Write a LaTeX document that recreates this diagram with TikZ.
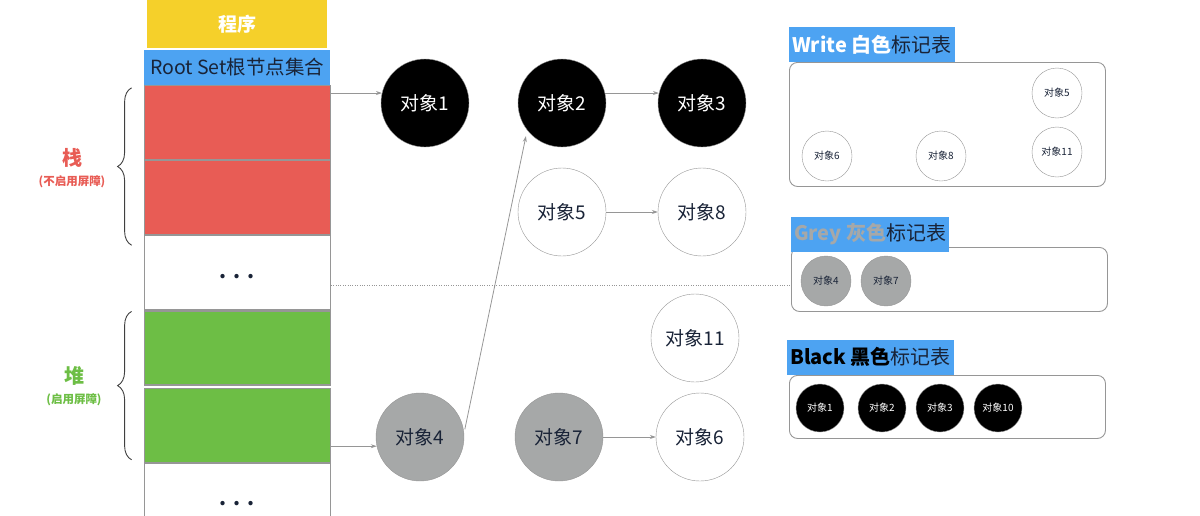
\documentclass[tikz,border=0pt]{standalone}
\usepackage{fontspec}
\setmainfont{Noto Sans CJK SC}
\usetikzlibrary{arrows.meta,positioning,decorations.pathreplacing}
\definecolor{progyellow}{RGB}{245,208,42}
\definecolor{rootblue}{RGB}{77,163,242}
\definecolor{stackred}{RGB}{232,92,85}
\definecolor{heapgreen}{RGB}{109,190,69}
\definecolor{objgrey}{RGB}{166,168,168}
\definecolor{edgegrey}{RGB}{150,150,150}
\definecolor{labeldark}{RGB}{25,35,55}

\newcommand{\celldots}{\textbf{.\hspace{7pt}.\hspace{7pt}.}}

\tikzset{
  cell/.style={draw=edgegrey, line width=1.2pt, minimum width=186pt, minimum height=74pt, inner sep=0pt},
  gapcell/.style={cell, fill=white, text=labeldark, font=\fontsize{20}{22}\selectfont},
  obj/.style={circle, draw=edgegrey, minimum size=88pt, inner sep=0pt, font=\fontsize{19}{21}\selectfont},
  mini/.style={circle, draw=edgegrey, minimum size=50pt, inner sep=0pt, font=\fontsize{10}{12}\selectfont},
  blackobj/.style={fill=black, text=white},
  greyobj/.style={fill=objgrey, text=labeldark},
  whiteobj/.style={fill=white, text=labeldark},
  table/.style={draw=edgegrey, rounded corners=8pt, line width=0.9pt, minimum width=316pt, anchor=north west},
  tabtitle/.style={fill=rootblue, text=labeldark, inner sep=3pt, minimum height=35pt, anchor=south west, font=\fontsize{20}{22}\selectfont},
  link/.style={->, draw=edgegrey, line width=0.8pt},
  brace/.style={decorate, decoration={brace, amplitude=14pt}, line width=0.9pt, draw=black!75},
}

\begin{document}
\begin{tikzpicture}[x=1pt, y=-1pt, >={Stealth[length=6pt, width=4pt]}]
    \useasboundingbox (0,0) rectangle (1200,515);

    % stack of the program
    \node[fill=progyellow, minimum width=180pt, minimum height=48pt, anchor=north west, text=white,
          font=\fontsize{19}{22}\selectfont\bfseries] (prog) at (147,0) {程序};
    \node[fill=rootblue, minimum width=186pt, minimum height=35pt, text=labeldark, inner sep=0pt,
          font=\fontsize{19.5}{21}\selectfont, below=1pt of prog] (rootset) {Root Set根节点集合};
    \node[cell, fill=stackred, below=0pt of rootset] (stackA) {};
    \node[cell, fill=stackred, below=0pt of stackA] (stackB) {};
    \node[gapcell, below=0pt of stackB] (gapA) {\raisebox{-11pt}{\celldots}};
    \node[cell, fill=heapgreen, below=0pt of gapA] (heapA) {};
    \node[cell, fill=heapgreen, below=2pt of heapA] (heapB) {};
    \node[gapcell, below=0pt of heapB] (gapB) {\raisebox{-11pt}{\celldots}};

    % braces
    \draw[brace] ([xshift=-12pt, yshift=-10pt]stackB.south west) -- ([xshift=-12pt, yshift=-3pt]stackA.north west);
    \draw[brace] ([xshift=-12pt, yshift=3pt]heapB.south west) -- ([xshift=-12pt, yshift=-1pt]heapA.north west);
    \node[text=stackred, font=\fontsize{20}{22}\selectfont\bfseries] (stacklbl) at (72,158) {栈};
    \node[text=stackred, font=\fontsize{11.5}{13}\selectfont\bfseries, below=1pt of stacklbl] (stacknote) {(不启用屏障)};
    \node[text=heapgreen, font=\fontsize{20}{22}\selectfont\bfseries] (heaplbl) at (74,376) {堆};
    \node[text=heapgreen, font=\fontsize{11.5}{13}\selectfont\bfseries, below=1pt of heaplbl] (heapnote) {(启用屏障)};

    % objects
    \node[obj, blackobj] (obj1) at (425,103) {对象1};
    \node[obj, blackobj] (obj2) at (562,103) {对象2};
    \node[obj, blackobj] (obj3) at (702,103) {对象3};
    \node[obj, whiteobj] (obj5) at (562,212) {对象5};
    \node[obj, whiteobj] (obj8) at (702,212) {对象8};
    \node[obj, whiteobj] (obj11) at (695,338) {对象11};
    \node[obj, greyobj] (obj4) at (420,437) {对象4};
    \node[obj, greyobj] (obj7) at (559,437) {对象7};
    \node[obj, whiteobj] (obj6) at (700,437) {对象6};

    \draw[link] (stackA.east |- obj1.167) -- (obj1.167);
    \draw[link] (obj2.13) -- (obj3.167);
    \draw[link] (obj5) -- (obj8);
    \draw[link] (heapB.east |- obj4.192) -- (obj4.192);
    \draw[link, shorten <=4pt, shorten >=6pt] (obj4.5) -- (obj2.218);
    \draw[link] (obj7) -- (obj6);

    % mark tables
    \node[table, minimum height=124pt] (whitetab) at (789,62) {};
    \node[tabtitle] (whitetitle) at (whitetab.north west) {\textcolor{white}{\bfseries Write 白色}标记表};
    \node[mini, whiteobj] (w5) at (1057,93) {对象5};
    \node[mini, whiteobj] (w6) at (827,156) {对象6};
    \node[mini, whiteobj] (w8) at (941,156) {对象8};
    \node[mini, whiteobj] (w11) at (1057,152) {对象11};

    \node[table, minimum height=64pt] (greytab) at (791,247) {};
    \node[tabtitle] (greytitle) at ([yshift=-5pt]greytab.north west) {\textcolor{objgrey}{\bfseries Grey 灰色}标记表};
    \node[mini, greyobj] (g4) at (826,281) {对象4};
    \node[mini, greyobj] (g7) at (886,281) {对象7};

    \node[table, minimum height=63pt] (blacktab) at (789,375) {};
    \node[tabtitle] (blacktitle) at ([xshift=-2pt]blacktab.north west) {\textcolor{black}{\bfseries Black 黑色}标记表};
    \node[mini, blackobj, minimum size=48pt] (b1) at (820,408) {对象1};
    \node[mini, blackobj, minimum size=48pt] (b2) at (882,408) {对象2};
    \node[mini, blackobj, minimum size=48pt] (b3) at (940,408) {对象3};
    \node[mini, blackobj, minimum size=48pt] (b10) at (998,408) {对象10};

    \draw[dotted, draw=edgegrey] ([yshift=-12pt]gapA.east) -- ([yshift=-12pt]gapA.east -| greytab.west);
\end{tikzpicture}
\end{document}
